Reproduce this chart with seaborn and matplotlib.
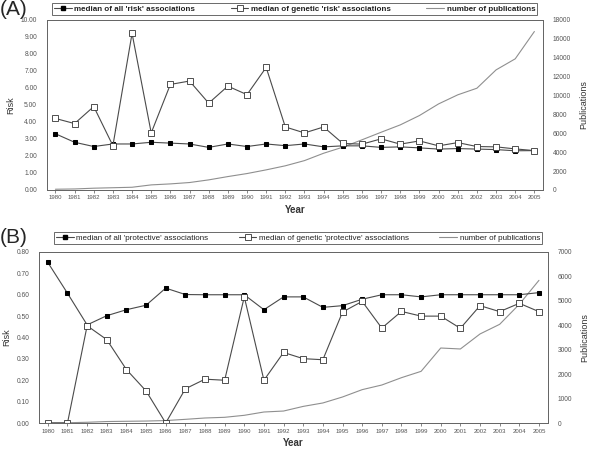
import pandas as pd
import matplotlib
matplotlib.use("Agg")
import matplotlib.pyplot as plt
from matplotlib.lines import Line2D
import seaborn as sns

sns.set_style("white")
plt.rcParams['font.family'] = ['Liberation Sans', 'DejaVu Sans']

years = list(range(1980, 2006))

# panel A - risk associations
risk_all = [3.3, 2.8, 2.55, 2.7, 2.7, 2.8, 2.75, 2.7, 2.5, 2.7, 2.55, 2.7, 2.6,
            2.7, 2.53, 2.59, 2.59, 2.5, 2.53, 2.47, 2.4, 2.43, 2.4, 2.37, 2.3, 2.31]
risk_gen = [4.2, 3.9, 4.9, 2.6, 9.2, 3.35, 6.2, 6.4, 5.1, 6.1, 5.6, 7.2, 3.7,
            3.35, 3.7, 2.73, 2.69, 3.0, 2.69, 2.88, 2.59, 2.78, 2.55, 2.53, 2.41, 2.31]
pubs_a = [70, 100, 180, 230, 280, 530, 635, 780, 1060, 1410, 1730, 2120, 2550,
          3100, 3880, 4520, 5300, 6100, 6880, 7870, 9100, 10060, 10760, 12700, 13870, 16760]

# panel B - protective associations
prot_all = [0.751, 0.607, 0.459, 0.502, 0.53, 0.551, 0.631, 0.601, 0.60, 0.60, 0.60, 0.53, 0.59,
            0.59, 0.541, 0.549, 0.579, 0.60, 0.60, 0.59, 0.60, 0.60, 0.60, 0.60, 0.60, 0.61]
prot_gen = [0.0, 0.0, 0.455, 0.39, 0.25, 0.15, 0.0, 0.16, 0.205, 0.20, 0.59, 0.20, 0.33,
            0.301, 0.296, 0.519, 0.569, 0.444, 0.522, 0.50, 0.50, 0.443, 0.549, 0.521, 0.56, 0.521]
pubs_b = [5, 10, 30, 60, 70, 80, 100, 150, 205, 233, 315, 450, 490,
          680, 820, 1065, 1365, 1555, 1855, 2115, 3070, 3030, 3645, 4040, 4860, 5840]

LINE = "#4a4a4a"
PUB = "#8f8f8f"
TXT = "#555555"

fig = plt.figure(figsize=(6, 4.5), dpi=100)


def panel(rect, tag, all_vals, gen_vals, pubs, ymax, ystep, pmax, pstep,
          names, leg_rect, bold):
    df = pd.DataFrame({"Year": years, "all": all_vals, "gen": gen_vals, "pubs": pubs})
    ax = fig.add_axes(rect)
    ax2 = ax.twinx()
    sns.lineplot(data=df, x="Year", y="pubs", ax=ax2, color=PUB, lw=0.8)
    sns.lineplot(data=df, x="Year", y="all", ax=ax, color=LINE, lw=0.8,
                 marker="s", markersize=3.4, markerfacecolor="black", markeredgecolor="black")
    sns.lineplot(data=df, x="Year", y="gen", ax=ax, color=LINE, lw=0.8,
                 marker="s", markersize=3.8, markerfacecolor="white", markeredgecolor="#333333",
                 markeredgewidth=0.6)
    ax.set_zorder(ax2.get_zorder() + 1)
    ax.patch.set_visible(False)

    ax.set_xlim(1979.55, 2005.45)
    ax.set_ylim(0, ymax)
    ax2.set_ylim(0, pmax)
    yt = [i * ystep for i in range(int(round(ymax / ystep)) + 1)]
    ax.set_yticks(yt)
    ax.set_yticklabels(["%.2f" % v for v in yt])
    pt = list(range(0, pmax + 1, pstep))
    ax2.set_yticks(pt)
    ax2.set_yticklabels([str(v) for v in pt])
    ax.set_xticks(years)
    ax.set_xticklabels([str(y) for y in years])

    ax.tick_params(axis="x", labelsize=4.3, colors=TXT, length=2, width=0.5, pad=2, bottom=True)
    ax.tick_params(axis="y", labelsize=4.8, colors=TXT, length=0, pad=7)
    ax2.tick_params(axis="y", labelsize=4.8, colors=TXT, length=0, pad=7)
    for a in (ax, ax2):
        for s in a.spines.values():
            s.set_color("#666666")
            s.set_linewidth(0.7)

    ax.set_xlabel("Year", fontsize=7, fontweight="bold", color="#333333", labelpad=3)
    ax.set_ylabel("Risk", fontsize=6.5, color="#333333", labelpad=4)
    ax2.set_ylabel("Publications", fontsize=6.5, color="#333333", labelpad=6)

    handles = [
        Line2D([], [], color=LINE, lw=0.8, marker="s", markersize=3.4,
               markerfacecolor="black", markeredgecolor="black"),
        Line2D([], [], color=LINE, lw=0.8, marker="s", markersize=3.8,
               markerfacecolor="white", markeredgecolor="#333333", markeredgewidth=0.6),
        Line2D([], [], color=PUB, lw=0.8),
    ]
    leg = fig.legend(handles, names, loc="center", bbox_to_anchor=leg_rect, mode="expand",
                     ncol=3, fancybox=False, frameon=True, edgecolor="#444444",
                     borderpad=0.25, handlelength=2.2, handletextpad=0.3, columnspacing=1.0,
                     prop={"size": 5.8, "weight": "bold" if bold else "normal"})
    leg.get_frame().set_linewidth(0.7)
    for t in leg.get_texts():
        t.set_color("#222222")
    fig.text(0.0, leg_rect[1] + leg_rect[3] / 2, tag, fontsize=15, va="center", ha="left")


panel([0.078, 0.578, 0.827, 0.378], "(A)", risk_all, risk_gen, pubs_a,
      10.0, 1.0, 18000, 2000,
      ["median of all 'risk' associations", "median of genetic 'risk' associations",
       "number of publications"],
      (0.08, 0.966, 0.822, 0.027), True)

panel([0.065, 0.06, 0.848, 0.38], "(B)", prot_all, prot_gen, pubs_b,
      0.8, 0.1, 7000, 1000,
      ["median of all 'protective' associations", "median of genetic 'protective' associations",
       "number of publications"],
      (0.083, 0.458, 0.827, 0.027), False)

fig.savefig("out.png", dpi=100)
